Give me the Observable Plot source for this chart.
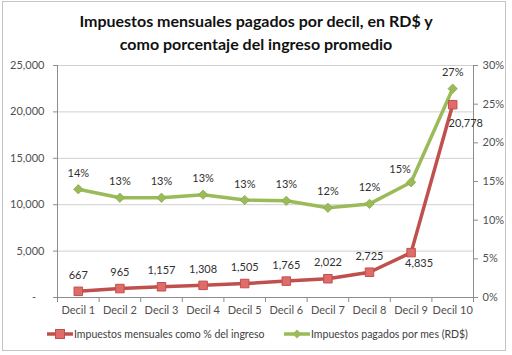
<!DOCTYPE html>
<html>
<head>
<meta charset="utf-8">
<script src="https://cdn.jsdelivr.net/npm/d3@7"></script>
<script src="https://cdn.jsdelivr.net/npm/@observablehq/plot@0.6"></script>
<style>
  body { margin: 0; background: #fff; }
  #wrap { position: relative; width: 512px; height: 355px; overflow: hidden; font-family: Lato, "Open Sans", sans-serif; }
  #frame { position: absolute; left: 2px; top: 1px; width: 504px; height: 350px; border: 1px solid #c4c4c4; box-sizing: border-box; }
  #title { position: absolute; left: 0; top: 9px; width: 512px; text-align: center; font-weight: bold; font-size: 16px; line-height: 23px; color: #111; }
  #chart { position: absolute; left: 0; top: 50px; }
  #legend { position: absolute; top: 326px; left: 0; width: 512px; font-size: 10.5px; color: #404040; }
  .li { position: absolute; top: 0; display: flex; align-items: center; height: 16px; white-space: nowrap; }
</style>
</head>
<body>
<div id="wrap">
  <div id="frame"></div>
  <div id="title">Impuestos mensuales pagados por decil, en RD$ y<br>como porcentaje del ingreso promedio</div>
  <div id="chart"></div>
  <div id="legend"></div>
</div>
<script>
const deciles = ["Decil 1","Decil 2","Decil 3","Decil 4","Decil 5","Decil 6","Decil 7","Decil 8","Decil 9","Decil 10"];
const impuestosRD = [667, 965, 1157, 1308, 1505, 1765, 2022, 2725, 4835, 20778];
const impuestosPct = [14.0, 12.9, 12.9, 13.3, 12.6, 12.5, 11.6, 12.1, 14.9, 27.0];
const pctLabels = ["14%","13%","13%","13%","13%","13%","12%","12%","15%","27%"];
const leftTicks = [0, 5000, 10000, 15000, 20000, 25000];
const rightTicks = [0, 5, 10, 15, 20, 25, 30];
const seriesNames = ["Impuestos mensuales como % del ingreso", "Impuestos pagados por mes (RD$)"];

const RED = "#C0504D", RED_FILL = "#E06C69", GREEN = "#9BBB59";
const leftMax = 25000, rightMax = 30;
const toLeft = p => p * leftMax / rightMax;

const data = deciles.map((d, i) => ({
  i: i + 1, decil: d, rd: impuestosRD[i], pct: impuestosPct[i], pctY: toLeft(impuestosPct[i]),
  rdLabel: d3.format(",")(impuestosRD[i]), pctLabel: pctLabels[i]
}));

const normalRed = data.filter(d => d.i <= 8);
const normalGreen = data.filter(d => d.i !== 9);

const plot = Plot.plot({
  width: 512, height: 275,
  marginLeft: 57, marginRight: 39, marginTop: 15, marginBottom: 28,
  style: { fontFamily: "Lato, 'Open Sans', sans-serif", fontSize: "11px", color: "#505050", background: "transparent", overflow: "visible" },
  x: { type: "linear", domain: [0.5, 10.5] },
  y: { domain: [0, leftMax] },
  marks: [
    Plot.ruleY(leftTicks.slice(1), { stroke: "#d0d0d0", strokeWidth: 1 }),
    Plot.ruleX([0.5, 10.5], { stroke: "#8c8c8c" }),
    Plot.ruleY([0], { stroke: "#8c8c8c" }),
    Plot.axisY({ anchor: "left", ticks: leftTicks, tickSize: 4, tickPadding: 9, stroke: "#8c8c8c",
      tickFormat: d => d === 0 ? "-\u00a0\u00a0\u00a0" : d3.format(",")(d), label: null }),
    Plot.axisY({ anchor: "right", ticks: rightTicks.map(toLeft), tickSize: 4, tickPadding: 5, stroke: "#8c8c8c",
      tickFormat: d => Math.round(d * rightMax / leftMax) + "%", label: null }),
    Plot.axisX({ ticks: d3.range(0, 10).map(k => k + 1), tickSize: 0, tickPadding: 9,
      tickFormat: d => deciles[d - 1], label: null }),
    Plot.axisX({ ticks: d3.range(0, 11).map(k => k + 0.5), tickSize: 5, tickFormat: () => "", stroke: "#8c8c8c", label: null }),
    // green series (percent, right axis)
    Plot.line(data, { x: "i", y: "pctY", stroke: GREEN, strokeWidth: 3.5 }),
    Plot.dot(data, { x: "i", y: "pctY", symbol: "diamond2", r: 4.2, fill: GREEN, stroke: "#8aa84e", strokeWidth: 0.8 }),
    // red series (RD$, left axis)
    Plot.line(data, { x: "i", y: "rd", stroke: RED, strokeWidth: 3.5 }),
    Plot.dot(data, { x: "i", y: "rd", symbol: "square", r: 4.8, fill: RED_FILL, stroke: RED, strokeWidth: 1 }),
    // labels
    Plot.text(normalRed, { x: "i", y: "rd", text: "rdLabel", dy: -16, fill: "#303030" }),
    Plot.text(data.filter(d => d.i === 9), { x: "i", y: "rd", text: "rdLabel", dx: 8, dy: 11, fill: "#303030" }),
    Plot.text(data.filter(d => d.i === 10), { x: "i", y: "rd", text: "rdLabel", dx: 13, dy: 19, fill: "#303030" }),
    Plot.text(normalGreen, { x: "i", y: "pctY", text: "pctLabel", dy: -16, fill: "#303030" }),
    Plot.text(data.filter(d => d.i === 9), { x: "i", y: "pctY", text: "pctLabel", dx: -11, dy: -13, fill: "#303030" })
  ]
});
document.getElementById("chart").appendChild(plot);

// legend
const legend = document.getElementById("legend");
const items = [
  { name: seriesNames[0], color: RED, fill: RED_FILL, shape: "square", left: 47 },
  { name: seriesNames[1], color: GREEN, fill: GREEN, shape: "diamond", left: 284 }
];
items.forEach(it => {
  const el = document.createElement("div");
  el.className = "li";
  el.style.left = it.left + "px";
  const marker = it.shape === "square"
    ? `<rect x="8.5" y="3.5" width="9" height="9" fill="${it.fill}" stroke="${it.color}"/>`
    : `<path d="M13 3.5 L17.5 8 L13 12.5 L8.5 8 Z" fill="${it.fill}"/>`;
  el.innerHTML = `<svg width="26" height="16" style="margin-right:1px"><line x1="0" x2="26" y1="8" y2="8" stroke="${it.color}" stroke-width="3.5"/>${marker}</svg><span>${it.name}</span>`;
  legend.appendChild(el);
});
</script>
</body>
</html>
